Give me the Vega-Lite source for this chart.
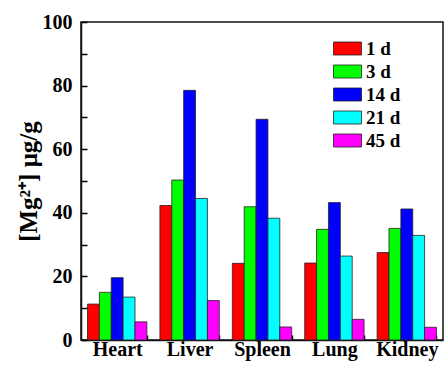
{
  "$schema": "https://vega.github.io/schema/vega-lite/v6.json",
  "autosize": "none",
  "width": 362,
  "height": 318,
  "padding": {"left": 81, "top": 22, "right": 4, "bottom": 28},
  "background": "white",
  "config": {
    "view": {"stroke": "#111", "strokeWidth": 1.5},
    "font": "Liberation Serif"
  },
  "data": {
    "values": [
      {"organ": "Heart", "day": "1 d", "v": 11.3},
      {"organ": "Heart", "day": "3 d", "v": 15.0},
      {"organ": "Heart", "day": "14 d", "v": 19.6},
      {"organ": "Heart", "day": "21 d", "v": 13.5},
      {"organ": "Heart", "day": "45 d", "v": 5.7},
      {"organ": "Liver", "day": "1 d", "v": 42.3},
      {"organ": "Liver", "day": "3 d", "v": 50.3},
      {"organ": "Liver", "day": "14 d", "v": 78.5},
      {"organ": "Liver", "day": "21 d", "v": 44.5},
      {"organ": "Liver", "day": "45 d", "v": 12.4},
      {"organ": "Spleen", "day": "1 d", "v": 24.1},
      {"organ": "Spleen", "day": "3 d", "v": 41.9},
      {"organ": "Spleen", "day": "14 d", "v": 69.4},
      {"organ": "Spleen", "day": "21 d", "v": 38.3},
      {"organ": "Spleen", "day": "45 d", "v": 4.1},
      {"organ": "Lung", "day": "1 d", "v": 24.2},
      {"organ": "Lung", "day": "3 d", "v": 34.8},
      {"organ": "Lung", "day": "14 d", "v": 43.2},
      {"organ": "Lung", "day": "21 d", "v": 26.4},
      {"organ": "Lung", "day": "45 d", "v": 6.5},
      {"organ": "Kidney", "day": "1 d", "v": 27.5},
      {"organ": "Kidney", "day": "3 d", "v": 35.1},
      {"organ": "Kidney", "day": "14 d", "v": 41.2},
      {"organ": "Kidney", "day": "21 d", "v": 32.9},
      {"organ": "Kidney", "day": "45 d", "v": 4.0}
    ]
  },
  "mark": {"type": "bar", "stroke": "#222", "strokeWidth": 0.8},
  "encoding": {
    "x": {
      "field": "organ",
      "type": "nominal",
      "sort": ["Heart", "Liver", "Spleen", "Lung", "Kidney"],
      "scale": {"paddingInner": 0.18, "paddingOuter": 0.09},
      "axis": {
        "title": null,
        "labelAngle": 0,
        "labelFont": "Liberation Serif",
        "labelFontWeight": "bold",
        "labelFontSize": 20,
        "labelColor": "black",
        "labelPadding": 4,
        "ticks": true,
        "tickBand": "extent",
        "tickSize": -5,
        "tickColor": "#000",
        "tickWidth": 1.5,
        "domainColor": "#111",
        "domainWidth": 1.5
      }
    },
    "xOffset": {
      "field": "day",
      "type": "nominal",
      "sort": ["1 d", "3 d", "14 d", "21 d", "45 d"],
      "scale": {"paddingInner": 0, "paddingOuter": 0}
    },
    "y": {
      "field": "v",
      "type": "quantitative",
      "scale": {"domain": [0, 100], "nice": false},
      "axis": {
        "title": "[Mg²⁺] μg/g",
        "titleFont": "Liberation Serif",
        "titleFontWeight": "bold",
        "titleFontSize": 25,
        "titleColor": "black",
        "titlePadding": 1,
        "values": [0, 10, 20, 30, 40, 50, 60, 70, 80, 90, 100],
        "labelExpr": "datum.value % 20 === 0 ? datum.label : ''",
        "labelFont": "Liberation Serif",
        "labelFontWeight": "bold",
        "labelFontSize": 20,
        "labelColor": "black",
        "labelPadding": 15,
        "ticks": true,
        "tickSize": -6,
        "tickColor": "#000",
        "tickWidth": 1.5,
        "grid": false,
        "domainColor": "#111",
        "domainWidth": 1.5
      }
    },
    "color": {
      "field": "day",
      "type": "nominal",
      "sort": ["1 d", "3 d", "14 d", "21 d", "45 d"],
      "scale": {
        "domain": ["1 d", "3 d", "14 d", "21 d", "45 d"],
        "range": ["#ff0000", "#00ff00", "#0000ff", "#00ffff", "#ff00ff"]
      },
      "legend": {
        "title": null,
        "orient": "none",
        "legendX": 256,
        "legendY": 16,
        "padding": 0,
        "symbolType": "M-1.4,-0.65H1.4V0.65H-1.4Z",
        "symbolSize": 400,
        "symbolStrokeColor": "#222",
        "symbolStrokeWidth": 0.8,
        "symbolOpacity": 1,
        "labelFont": "Liberation Serif",
        "labelFontWeight": "bold",
        "labelFontSize": 19,
        "labelColor": "black",
        "labelOffset": 8,
        "rowPadding": 2
      }
    }
  }
}
